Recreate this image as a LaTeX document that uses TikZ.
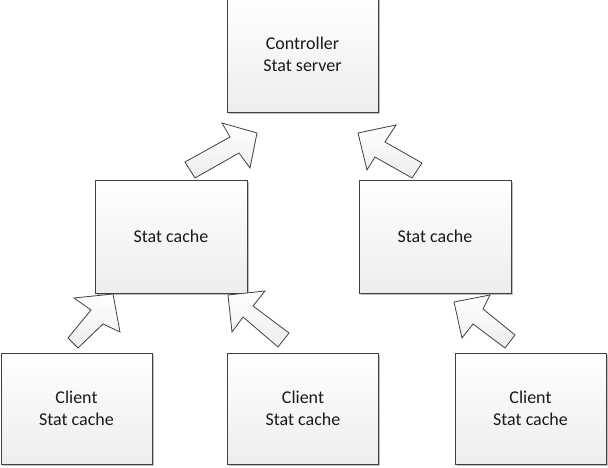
\documentclass[tikz,border=0pt]{standalone}
\usepackage{fontspec}
\setmainfont{Carlito}
\usetikzlibrary{shadows}
\definecolor{edge}{HTML}{404040}
\definecolor{txt}{HTML}{1A1A1A}
\definecolor{fillbot}{HTML}{EDEDED}
\begin{document}
\begin{tikzpicture}[x=1pt,y=-1pt,
  box/.style={draw=edge, line width=0.9pt, rectangle, top color=white, bottom color=fillbot,
    align=center, text=txt, font=\fontsize{18}{22}\selectfont, inner sep=0pt,
    drop shadow={shadow xshift=1.6pt, shadow yshift=-1.6pt, opacity=0.25, fill=black}},
  blockarrow/.style={draw=edge, line width=0.8pt, line join=miter, top color=white, bottom color=fillbot}]
\useasboundingbox (0,0) rectangle (608,468);
\node[box, minimum width=151pt, minimum height=115pt] (ctrl) at (302.5,54.5) {Controller\\Stat server};
\node[box, minimum width=152pt, minimum height=113pt] (cacheL) at (171,236.5) {Stat cache};
\node[box, minimum width=152pt, minimum height=113pt] (cacheR) at (435,236.5) {Stat cache};
\node[box, minimum width=151pt, minimum height=111pt] (clientL) at (76.5,408.5) {Client\\Stat cache};
\node[box, minimum width=151pt, minimum height=111pt] (clientM) at (303,408.5) {Client\\Stat cache};
\node[box, minimum width=151pt, minimum height=111pt] (clientR) at (530.5,408.5) {Client\\Stat cache};
% block arrows
\draw[blockarrow] (185,162) -- (230,137) -- (222,123) -- (257,133) -- (250,168) -- (239,153) -- (195,178) -- cycle;
\draw[blockarrow] (422,163) -- (385,142) -- (396,125) -- (358,133) -- (367,170) -- (375,157) -- (412,178) -- cycle;
\draw[blockarrow] (68,338) -- (91,310) -- (74,298) -- (113,294) -- (120,332) -- (103,324) -- (78,348) -- cycle;
\draw[blockarrow] (289,333) -- (253,306) -- (265,291) -- (228,295) -- (232,332) -- (243,317) -- (278,347) -- cycle;
\draw[blockarrow] (515,335) -- (483,309) -- (490,295) -- (454,302) -- (462,338) -- (473,324) -- (505,348) -- cycle;
\end{tikzpicture}
\end{document}
